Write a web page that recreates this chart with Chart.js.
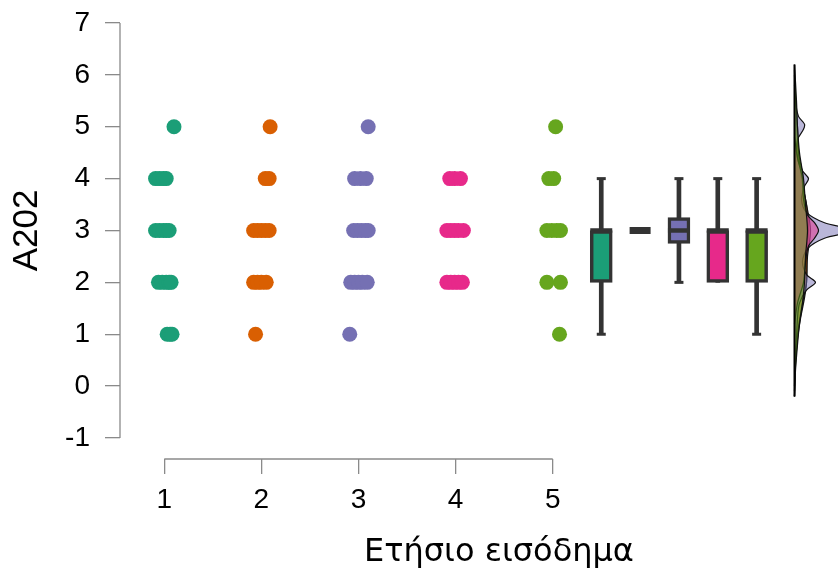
<!DOCTYPE html>
<html>
<head>
<meta charset="utf-8">
<script src="https://cdn.jsdelivr.net/npm/chart.js"></script>
<style>
  html, body { margin: 0; padding: 0; background: #fff; }
</style>
</head>
<body>
<canvas id="chart" width="838" height="581"></canvas>
<script>
// Groups and colours (Dark2)
const groups = ['1', '2', '3', '4', '5'];
const colors = ['#1B9E77', '#D95F02', '#7570B3', '#E7298A', '#66A61E'];
const fills = ['rgba(27,158,119,0.5)', 'rgba(217,95,2,0.5)', 'rgba(117,112,179,0.5)', 'rgba(231,41,138,0.5)', 'rgba(102,166,30,0.5)'];

const xTicks = [1, 2, 3, 4, 5];
const yTicks = [-1, 0, 1, 2, 3, 4, 5, 6, 7];
const xTitle = 'Ετήσιο εισόδημα';
const yTitle = 'A202';

// Jittered points
const g1X = [1.10, 0.91, 0.95, 0.99, 1.02, 0.91, 0.95, 0.99, 1.02, 1.05, 0.94, 0.98, 1.02, 1.05, 1.07, 1.03, 1.06, 1.08];
const g1Y = [5, 4, 4, 4, 4, 3, 3, 3, 3, 3, 2, 2, 2, 2, 2, 1, 1, 1];
const g2X = [2.09, 2.04, 2.08, 1.92, 1.96, 2.00, 2.04, 2.08, 1.92, 1.96, 2.00, 2.05, 1.94];
const g2Y = [5, 4, 4, 3, 3, 3, 3, 3, 2, 2, 2, 2, 1];
const g3X = [3.10, 2.96, 3.02, 3.08, 2.95, 2.99, 3.03, 3.07, 3.10, 2.92, 2.96, 3.00, 3.04, 3.09, 2.91];
const g3Y = [5, 4, 4, 4, 3, 3, 3, 3, 3, 2, 2, 2, 2, 2, 1];
const g4X = [3.94, 3.99, 4.05, 3.91, 3.95, 3.99, 4.03, 4.08, 3.91, 3.95, 3.99, 4.03, 4.07];
const g4Y = [4, 4, 4, 3, 3, 3, 3, 3, 2, 2, 2, 2, 2];
const g5X = [5.03, 4.96, 5.01, 4.94, 4.99, 5.04, 5.08, 4.94, 5.08, 5.07];
const g5Y = [5, 4, 4, 3, 3, 3, 3, 2, 2, 1];
const pointsX = [g1X, g2X, g3X, g4X, g5X];
const pointsY = [g1Y, g2Y, g3Y, g4Y, g5Y];

// Box plot statistics per group
const boxMin = [1, 3, 2, 2, 1];
const boxQ1 = [2, 3, 2.75, 2, 2];
const boxMed = [3, 3, 3, 3, 3];
const boxQ3 = [3, 3, 3.25, 3, 3];
const boxMax = [4, 3, 4, 4, 4];

// Density curves (y value, density)
const d1Y = [-0.2, 0.4, 0.9, 1.3, 1.7, 2.0, 2.5, 3.0, 3.5, 3.8, 4.1, 4.5, 5.0, 5.5, 6.0];
const d1D = [0, 1, 3, 6, 10, 12, 12, 14, 12, 9, 8, 4, 3, 1, 0];
const d2Y = [0.0, 0.6, 1.0, 1.5, 2.0, 2.5, 3.0, 3.5, 3.9, 4.3, 4.8, 5.2, 5.8];
const d2D = [0, 1, 3, 7, 12, 13, 16, 12, 8, 5, 3, 2, 0];
const d3Y = [-0.1, 0.5, 0.9, 1.3, 1.6, 1.85, 2.0, 2.15, 2.4, 2.65, 2.85, 3.0, 3.15, 3.35, 3.6, 3.85, 4.0, 4.15, 4.4, 4.75, 4.95, 5.05, 5.2, 5.5, 6.1];
const d3D = [0, 1, 2, 3, 5, 12, 21, 12, 8, 13, 30, 60, 30, 12, 7, 10, 14, 8, 3, 3, 9, 10, 4, 1, 0];
const d4Y = [1.2, 1.6, 2.0, 2.4, 2.7, 2.85, 3.0, 3.15, 3.3, 3.6, 4.0, 4.4, 4.8];
const d4D = [0, 3, 9, 11, 14, 20, 24, 20, 13, 9, 8, 3, 0];
const d5Y = [-0.2, 0.3, 0.8, 1.2, 1.6, 2.0, 2.5, 3.0, 3.5, 4.0, 4.5, 5.0, 5.5, 6.2];
const d5D = [0, 1, 3, 5, 8, 10, 11, 13, 11, 9, 5, 3, 2, 0];
const densY = [d1Y, d2Y, d3Y, d4Y, d5Y];
const densD = [d1D, d2D, d3D, d4D, d5D];

// Layout of the boxes / densities along x
const boxStart = 5.5;
const boxStep = 0.4;
const densBase = 7.49;
const densScale = 0.0103;

const fontFamily = '"Liberation Sans", Arial, sans-serif';
const axisColor = '#8a8a8a';
const boxLine = '#333333';

const datasets = [];

// points
groups.forEach((g, i) => {
  datasets.push({
    type: 'scatter',
    label: 'points ' + g,
    data: pointsX[i].map((x, k) => ({ x: x, y: pointsY[i][k] })),
    backgroundColor: colors[i],
    borderWidth: 0,
    pointRadius: 7.5,
    order: 0
  });
});

// boxplots
const boxX = groups.map((g, i) => boxStart + i * boxStep);
datasets.push({
  type: 'bar',
  label: 'whiskers',
  data: groups.map((g, i) => ({ x: boxX[i], y: [boxMin[i], boxMax[i]] })),
  backgroundColor: boxLine,
  borderWidth: 0,
  barThickness: 4,
  grouped: false,
  order: 5
});
datasets.push({
  type: 'scatter',
  label: 'caps',
  data: groups.flatMap((g, i) => {
    const caps = [];
    if (boxMin[i] < boxQ1[i]) caps.push({ x: boxX[i], y: boxMin[i] });
    if (boxMax[i] > boxQ3[i]) caps.push({ x: boxX[i], y: boxMax[i] });
    return caps;
  }),
  pointStyle: 'line',
  pointRadius: 4.5,
  borderColor: boxLine,
  pointBorderWidth: 3,
  order: 4
});
datasets.push({
  type: 'bar',
  label: 'boxes',
  data: groups.map((g, i) => ({ x: boxX[i], y: [boxQ1[i], boxQ3[i]] })),
  backgroundColor: colors,
  borderColor: boxLine,
  borderWidth: 3.5,
  borderSkipped: false,
  barThickness: 22,
  grouped: false,
  order: 3
});
datasets.push({
  type: 'scatter',
  label: 'medians',
  data: groups.map((g, i) => ({ x: boxX[i], y: boxMed[i] })),
  pointStyle: 'line',
  pointRadius: groups.map((g, i) => boxQ1[i] === boxQ3[i] ? 10.5 : 11),
  borderColor: boxLine,
  pointBorderWidth: groups.map((g, i) => boxQ1[i] === boxQ3[i] ? 7 : 4.5),
  order: 2
});

// densities (green drawn last)
groups.forEach((g, i) => {
  datasets.push({
    type: 'line',
    label: 'density ' + g,
    data: densY[i].map((y, k) => ({ x: densBase + densD[i][k] * densScale, y: y })),
    fill: 'shape',
    backgroundColor: fills[i],
    borderColor: '#111',
    borderWidth: 1.2,
    pointRadius: 0,
    tension: 0.3,
    order: 20 - i
  });
});
const allDensY = densY.flat();
datasets.push({
  type: 'line',
  label: 'density base',
  data: [{ x: densBase, y: Math.min(...allDensY) }, { x: densBase, y: Math.max(...allDensY) }],
  borderColor: '#000',
  borderWidth: 2,
  pointRadius: 0,
  fill: false,
  order: 9
});

// axis lines that only span the tick range, plus titles
const axesPlugin = {
  id: 'axesPlugin',
  afterDraw(chart) {
    const ctx = chart.ctx;
    const xs = chart.scales.x;
    const ys = chart.scales.y;
    const area = chart.chartArea;
    ctx.save();
    ctx.strokeStyle = axisColor;
    ctx.lineWidth = 1.3;
    ctx.beginPath();
    ctx.moveTo(area.left, ys.getPixelForValue(yTicks[0]));
    ctx.lineTo(area.left, ys.getPixelForValue(yTicks[yTicks.length - 1]));
    ctx.moveTo(xs.getPixelForValue(xTicks[0]), area.bottom);
    ctx.lineTo(xs.getPixelForValue(xTicks[xTicks.length - 1]), area.bottom);
    ctx.stroke();

    ctx.fillStyle = '#000';
    ctx.textAlign = 'center';
    ctx.textBaseline = 'middle';
    ctx.font = '32px "DejaVu Sans", sans-serif';
    ctx.fillText(xTitle, 499, 553);

    ctx.translate(27, ys.getPixelForValue(3));
    ctx.rotate(-Math.PI / 2);
    ctx.font = '35px ' + fontFamily;
    ctx.fillText(yTitle, 0, 0);
    ctx.restore();
  }
};

new Chart(document.getElementById('chart'), {
  type: 'scatter',
  data: { datasets: datasets },
  options: {
    responsive: false,
    animation: false,
    events: [],
    layout: { autoPadding: false, padding: { top: 23, left: 0, right: 0, bottom: 0 } },
    plugins: { legend: { display: false }, tooltip: { enabled: false } },
    scales: {
      x: {
        type: 'linear',
        min: 0.544,
        max: 7.938,
        offset: false,
        afterBuildTicks: s => { s.ticks = xTicks.map(v => ({ value: v })); },
        afterFit: s => { s.height = 122; s.paddingLeft = 0; s.paddingRight = 0; },
        grid: { drawOnChartArea: false, drawTicks: true, tickLength: 15, color: axisColor, lineWidth: 1.3, offset: false },
        border: { display: false },
        ticks: { font: { family: fontFamily, size: 28 }, color: '#000', padding: 9, maxRotation: 0, autoSkip: false, callback: v => String(v) }
      },
      y: {
        type: 'linear',
        min: -1.405,
        max: 7,
        afterBuildTicks: s => { s.ticks = yTicks.map(v => ({ value: v })); },
        afterFit: s => { s.width = 120; s.paddingTop = 0; s.paddingBottom = 0; },
        grid: { drawOnChartArea: false, drawTicks: true, tickLength: 15, color: axisColor, lineWidth: 1.3 },
        border: { display: false },
        ticks: { font: { family: fontFamily, size: 28 }, color: '#000', padding: 15, autoSkip: false, callback: v => String(v) }
      }
    }
  },
  plugins: [axesPlugin]
});
</script>
</body>
</html>
